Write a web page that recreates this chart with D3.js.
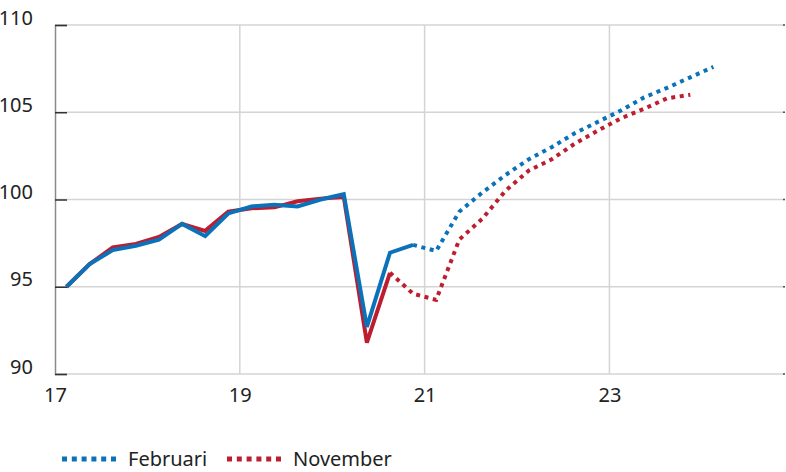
<!DOCTYPE html>
<html>
<head>
<meta charset="utf-8">
<script src="https://cdn.jsdelivr.net/npm/d3@7"></script>
<style>
  body { margin: 0; background: #fff; }
  text { font-family: "Noto Sans", "Open Sans", sans-serif; fill: #222; }
</style>
</head>
<body>
<svg id="chart" width="786" height="472"></svg>
<script>
// quarterly index, first quarter is 2017 Q1
var startYear = 17;
var februari = [95.0, 96.3, 97.1, 97.35, 97.7, 98.6, 97.9, 99.2, 99.6, 99.7, 99.6, 100.0, 100.3,
  92.7, 96.95, 97.4, 97.05, 99.3, 100.4, 101.4, 102.3, 103.0, 103.8, 104.45, 105.1, 105.85, 106.4, 107.0, 107.6];
var november = [95.0, 96.3, 97.25, 97.45, 97.85, 98.6, 98.2, 99.3, 99.5, 99.55, 99.9, 100.05, 100.15,
  91.8, 95.8, 94.6, 94.25, 97.7, 98.9, 100.5, 101.65, 102.3, 103.2, 103.95, 104.65, 105.2, 105.8, 106.0];
var februariLastOutcome = 15;  // index where the forecast starts
var novemberLastOutcome = 14;
var yTicks = [90, 95, 100, 105, 110];
var xTicks = [17, 19, 21, 23];
var seriesNames = ["Februari", "November"];
var seriesColours = ["#0b72b9", "#bc1e2f"];

var svg = d3.select("#chart");
var x = d3.scaleLinear().domain([17, 24.9]).range([55, 785]);
var y = d3.scaleLinear().domain([90, 110]).range([374, 25]);

function toPoints(values){
  return values.map(function(v, i){ return {t: startYear + (i + 0.5) / 4, v: v}; });
}

// grid
svg.append("g").selectAll("line.h").data(yTicks).enter().append("line")
  .attr("x1", x(17)).attr("x2", x(24.9))
  .attr("y1", function(d){ return y(d); }).attr("y2", function(d){ return y(d); })
  .style("stroke", "#d4d4d4").style("stroke-width", 1.5);
svg.append("g").selectAll("line.v").data(xTicks.slice(1)).enter().append("line")
  .attr("x1", function(d){ return x(d); }).attr("x2", function(d){ return x(d); })
  .attr("y1", y(110)).attr("y2", y(90))
  .style("stroke", "#d4d4d4").style("stroke-width", 1.5);

// left axis with inner ticks
var yAxis = d3.axisLeft(y).tickValues(yTicks).tickSize(-12).tickPadding(22);
var ya = svg.append("g").attr("transform", "translate(" + x(17) + ",0)").call(yAxis);
ya.select(".domain").style("stroke", "#8a8a8a").style("stroke-width", 1.5);
ya.selectAll(".tick line").style("stroke", "#333").style("stroke-width", 1.5);
ya.selectAll(".tick text").attr("dy", "-0.05em").style("font-size", "20px");

// right edge small marks
svg.append("g").selectAll("line.r").data(yTicks).enter().append("line")
  .attr("x1", x(24.9) - 2).attr("x2", x(24.9))
  .attr("y1", function(d){ return y(d); }).attr("y2", function(d){ return y(d); })
  .style("stroke", "#555").style("stroke-width", 1.5);

// bottom labels
var xAxis = d3.axisBottom(x).tickValues(xTicks).tickSize(0).tickPadding(14);
var xa = svg.append("g").attr("transform", "translate(0," + y(90) + ")").call(xAxis);
xa.select(".domain").remove();
xa.selectAll(".tick text").style("font-size", "20px");

var line = d3.line().x(function(d){ return x(d.t); }).y(function(d){ return y(d.v); });

function drawSeries(values, last, colour){
  var pts = toPoints(values);
  svg.append("path").datum(pts.slice(last))
    .attr("d", line).style("fill", "none").style("stroke", colour)
    .style("stroke-width", 4).style("stroke-dasharray", "4,4.6");
  svg.append("path").datum(pts.slice(0, last + 1))
    .attr("d", line).style("fill", "none").style("stroke", colour)
    .style("stroke-width", 4).style("stroke-linejoin", "miter");
}
drawSeries(november, novemberLastOutcome, seriesColours[1]);
drawSeries(februari, februariLastOutcome, seriesColours[0]);

// legend
var legendX = [62, 227];
var leg = svg.append("g").selectAll("g").data(seriesNames).enter().append("g")
  .attr("transform", function(d, i){ return "translate(" + legendX[i] + ",459)"; });
leg.append("line").attr("x1", 0).attr("x2", 54).attr("y1", 0).attr("y2", 0)
  .style("stroke", function(d, i){ return seriesColours[i]; })
  .style("stroke-width", 5).style("stroke-dasharray", "5,4.8");
leg.append("text").attr("x", 66).attr("y", 6.5).style("font-size", "20px")
  .text(function(d){ return d; });
</script>
</body>
</html>
